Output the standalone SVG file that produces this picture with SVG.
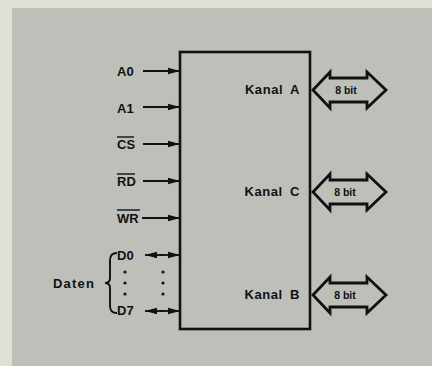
<svg xmlns="http://www.w3.org/2000/svg" width="432" height="366" viewBox="0 0 432 366">
<style>
.t{font-family:"Liberation Sans",Arial,sans-serif;font-weight:bold;font-size:13px;fill:#111}
.s{font-family:"Liberation Sans",Arial,sans-serif;font-weight:bold;font-size:10.5px;fill:#111}
.ln{stroke:#111;stroke-width:1.9;fill:none}
.fat{stroke:#111;stroke-width:2.8;fill:none;stroke-linejoin:miter}
.ov{stroke:#111;stroke-width:1.4}
</style>
<defs>
<marker id="ah" viewBox="0 0 12 8" refX="12" refY="4" markerWidth="12" markerHeight="8" markerUnits="userSpaceOnUse" orient="auto-start-reverse">
<path d="M0,0.8 L12,4 L0,7.2 Z" fill="#111"/>
</marker>
</defs>
<rect x="0" y="0" width="432" height="366" fill="#e0dfd6"/>
<rect x="12" y="8" width="420" height="358" fill="#bebfb9"/>

<g id="chip">
<rect x="180" y="52" width="130" height="277" fill="none" stroke="#111" stroke-width="2.6"/>
<text class="t" x="300" y="94" text-anchor="end" letter-spacing="0.6" word-spacing="3">Kanal A</text>
<text class="t" x="300" y="196" text-anchor="end" letter-spacing="0.6" word-spacing="3">Kanal C</text>
<text class="t" x="300" y="299" text-anchor="end" letter-spacing="0.6" word-spacing="3">Kanal B</text>
</g>

<g id="pins">
<text class="t" x="117" y="76">A0</text>
<text class="t" x="117" y="113">A1</text>
<text class="t" x="117" y="149">CS</text>
<line class="ov" x1="117" y1="137" x2="134" y2="137"/>
<text class="t" x="117" y="186">RD</text>
<line class="ov" x1="117" y1="174" x2="135" y2="174"/>
<text class="t" x="117" y="223">WR</text>
<line class="ov" x1="117" y1="210" x2="140" y2="210"/>
<text class="t" x="117" y="260">D0</text>
<text class="t" x="117" y="315">D7</text>
<circle cx="125" cy="272" r="1.6" fill="#111"/>
<circle cx="125" cy="283" r="1.6" fill="#111"/>
<circle cx="125" cy="294" r="1.6" fill="#111"/>
<text class="t" x="53" y="288" letter-spacing="1.2">Daten</text>
<path class="ln" d="M117,253 Q110,253 110,260 L110,278 Q110,283 105,283 Q110,283 110,288 L110,306 Q110,313 117,313"/>
</g>

<g id="connectors">
<line class="ln" x1="143" y1="71" x2="180" y2="71" marker-end="url(#ah)"/>
<line class="ln" x1="143" y1="107" x2="180" y2="107" marker-end="url(#ah)"/>
<line class="ln" x1="143" y1="144" x2="180" y2="144" marker-end="url(#ah)"/>
<line class="ln" x1="143" y1="181" x2="180" y2="181" marker-end="url(#ah)"/>
<line class="ln" x1="142" y1="218" x2="180" y2="218" marker-end="url(#ah)"/>
<line class="ln" x1="145" y1="255" x2="163" y2="255" marker-start="url(#ah)"/>
<line class="ln" x1="160" y1="255" x2="180" y2="255" marker-end="url(#ah)"/>
<line class="ln" x1="145" y1="311" x2="163" y2="311" marker-start="url(#ah)"/>
<line class="ln" x1="160" y1="311" x2="180" y2="311" marker-end="url(#ah)"/>
<circle cx="163" cy="272" r="1.6" fill="#111"/>
<circle cx="163" cy="283" r="1.6" fill="#111"/>
<circle cx="163" cy="294" r="1.6" fill="#111"/>
</g>

<g id="busA">
<path class="fat" d="M313,90 L330,72 L330,78 L367,78 L367,72 L386,90 L367,108 L367,102 L330,102 L330,108 Z"/>
<text class="s" x="346" y="94" text-anchor="middle">8 bit</text>
</g>
<g id="busC">
<path class="fat" d="M313,192 L330,174 L330,180 L367,180 L367,174 L386,192 L367,210 L367,204 L330,204 L330,210 Z"/>
<text class="s" x="345" y="196" text-anchor="middle">8 bit</text>
</g>
<g id="busB">
<path class="fat" d="M313,295 L330,277 L330,283 L367,283 L367,277 L386,295 L367,313 L367,307 L330,307 L330,313 Z"/>
<text class="s" x="345" y="299" text-anchor="middle">8 bit</text>
</g>
</svg>
